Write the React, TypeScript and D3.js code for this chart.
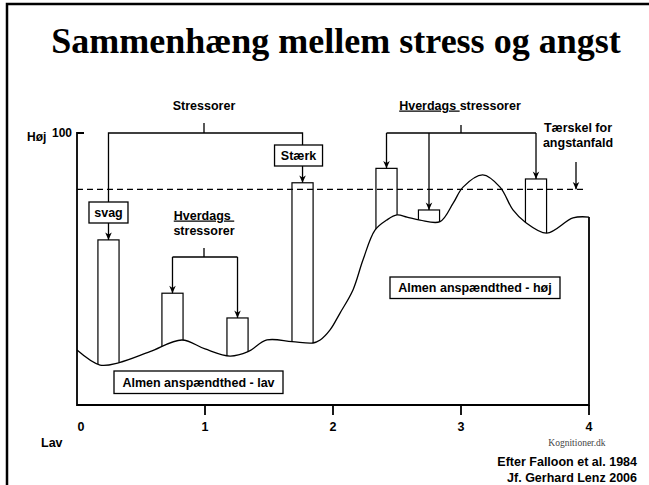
import React, { useEffect, useRef } from "react";
import * as d3 from "d3";

// Baseline tension curve (x in time units 0-4, y on 0-100 scale)
const curveX = [0, 0.18, 0.33, 0.57, 0.82, 1.0, 1.195, 1.336, 1.484, 1.68, 1.844, 1.9, 1.977, 2.055, 2.156, 2.234, 2.328, 2.42, 2.5, 2.578, 2.68, 2.836, 2.94, 3.016, 3.17, 3.305, 3.406, 3.5, 3.67, 3.875, 4.0];
const curveY = [20.2, 14.7, 15.6, 19.6, 23.9, 20.6, 18.0, 19.6, 23.9, 23.3, 22.8, 23.9, 27.6, 33.8, 42.3, 53.3, 64.3, 68, 69.9, 69.1, 68, 67.4, 74.3, 80.1, 84.6, 80.1, 71.7, 67.3, 63.2, 68.8, 69.1];

// Stressor bars
const barX = [0.246, 0.746, 1.254, 1.762, 2.418, 2.75, 3.586];
const barTop = [60.7, 41.1, 32, 81.7, 87, 71.7, 83.1];
const barWidth = 0.165;

const threshold = 79.3;
const xTicks = [0, 1, 2, 3, 4];
const yMax = 100;

const title = "Sammenhæng mellem stress og angst";
const sans = "'Liberation Sans', Arial, sans-serif";

const App: React.FC = () => {
  const svgRef = useRef<SVGSVGElement>(null);

  useEffect(() => {
    const svg = d3.select(svgRef.current);
    svg.selectAll("*").remove();

    const x = d3.scaleLinear().domain([0, 4]).range([77, 589]);
    const y = d3.scaleLinear().domain([0, yMax]).range([405, 133]);

    // arrow marker
    svg
      .append("defs")
      .append("marker")
      .attr("id", "arr")
      .attr("viewBox", "-1 -5 11 10")
      .attr("refX", 9)
      .attr("refY", 0)
      .attr("markerUnits", "userSpaceOnUse")
      .attr("markerWidth", 9)
      .attr("markerHeight", 9)
      .attr("orient", "auto")
      .append("path")
      .attr("d", "M0,-4 L9,0 L0,4 L2.5,0 Z")
      .attr("fill", "#000");

    // slide frame
    svg
      .append("path")
      .attr("d", "M7,490 L7,4 L655,4")
      .attr("fill", "none")
      .attr("stroke", "#000")
      .attr("stroke-width", 2.5);

    svg
      .append("text")
      .attr("x", 336)
      .attr("y", 53)
      .attr("text-anchor", "middle")
      .attr("font-family", "'Liberation Serif', 'Times New Roman', serif")
      .attr("font-weight", "bold")
      .attr("font-size", 36)
      .text(title);

    // bars (lower part hidden by the area under the curve)
    svg
      .append("g")
      .selectAll("rect")
      .data(barX)
      .join("rect")
      .attr("x", (d) => x(d - barWidth / 2))
      .attr("width", x(barWidth) - x(0))
      .attr("y", (d, i) => y(barTop[i]))
      .attr("height", (d, i) => y(0) - y(barTop[i]))
      .attr("fill", "#fff")
      .attr("stroke", "#000")
      .attr("stroke-width", 1.2);

    const pts = curveX.map((d, i) => [d, curveY[i]] as [number, number]);
    const area = d3
      .area<[number, number]>()
      .x((d) => x(d[0]))
      .y0(y(0))
      .y1((d) => y(d[1]))
      .curve(d3.curveCatmullRom.alpha(0.5));
    svg.append("path").attr("d", area(pts)).attr("fill", "#fff");

    const line = d3
      .line<[number, number]>()
      .x((d) => x(d[0]))
      .y((d) => y(d[1]))
      .curve(d3.curveCatmullRom.alpha(0.5));
    svg
      .append("path")
      .attr("d", line(pts))
      .attr("fill", "none")
      .attr("stroke", "#000")
      .attr("stroke-width", 1.3);

    // threshold
    svg
      .append("line")
      .attr("x1", x(0))
      .attr("x2", 585)
      .attr("y1", y(threshold))
      .attr("y2", y(threshold))
      .attr("stroke", "#000")
      .attr("stroke-width", 1.3)
      .attr("stroke-dasharray", "6,4");

    // axes
    const ax = svg.append("g").attr("stroke", "#000").attr("stroke-width", 1.8).attr("fill", "none");
    ax.append("path").attr("d", `M${x(0) + 7},${y(yMax)} H${x(0)} V${y(0)} H${x(4)} V${y(curveY[curveY.length - 1])}`);
    ax.selectAll("line")
      .data(xTicks.filter((d) => d > 0))
      .join("line")
      .attr("x1", (d) => x(d))
      .attr("x2", (d) => x(d))
      .attr("y1", y(0))
      .attr("y2", y(0) + 10);

    const txt = (
      g: d3.Selection<any, any, any, any>,
      s: string,
      tx: number,
      ty: number,
      anchor = "middle",
      size = 12.5
    ) =>
      g
        .append("text")
        .attr("x", tx)
        .attr("y", ty)
        .attr("text-anchor", anchor)
        .attr("font-family", sans)
        .attr("font-weight", "bold")
        .attr("font-size", size)
        .text(s);

    xTicks.forEach((d) => txt(svg, String(d), x(d) + (d === 0 ? 4 : 0), 431));
    txt(svg, "Lav", 41, 446.5, "start");
    txt(svg, "Høj", 27, 140.5, "start", 12);
    txt(svg, "100", 52, 137, "start", 12);

    // brackets and arrows
    const br = svg.append("g").attr("stroke", "#000").attr("stroke-width", 1.3).attr("fill", "none");
    const arrow = (x0: number, y0: number, y1: number) =>
      br.append("line").attr("x1", x0).attr("x2", x0).attr("y1", y0).attr("y2", y1).attr("marker-end", "url(#arr)");

    // "Stressorer" group -> bars 0 and 3
    txt(svg, "Stressorer", 204, 109.5);
    br.append("path").attr("d", `M204,123 V133 M${x(barX[0])},202 V133 H${x(barX[3])} V145`);
    const box = (label: string, cx: number, y0: number, w: number, h: number) => {
      svg
        .append("rect")
        .attr("x", cx - w / 2)
        .attr("y", y0)
        .attr("width", w)
        .attr("height", h)
        .attr("fill", "#fff")
        .attr("stroke", "#000")
        .attr("stroke-width", 1.3);
      txt(svg, label, cx, y0 + h / 2 + 4.5);
    };
    box("svag", x(barX[0]), 202, 39, 21);
    box("Stærk", x(barX[3]) - 4, 145, 48, 21);
    arrow(x(barX[0]), 223, y(barTop[0]));
    arrow(x(barX[3]), 166, y(barTop[3]));

    // left everyday stressors -> bars 1 and 2
    const hv1 = svg
      .append("text")
      .attr("x", 204)
      .attr("y", 219.5)
      .attr("text-anchor", "middle")
      .attr("font-family", sans)
      .attr("font-weight", "bold")
      .attr("font-size", 12.5)
      .attr("xml:space", "preserve");
    hv1.append("tspan").attr("text-decoration", "underline").text("Hverdags ");
    txt(svg, "stressorer", 204, 234.5);
    br.append("path").attr("d", `M204,248 V257 M${x(barX[1])},257 H${x(barX[2])}`);
    arrow(x(barX[1]), 257, y(barTop[1]));
    arrow(x(barX[2]), 257, y(barTop[2]));

    // right everyday stressors -> bars 4, 5, 6
    const hv2 = svg
      .append("text")
      .attr("x", 460)
      .attr("y", 109.5)
      .attr("text-anchor", "middle")
      .attr("font-family", sans)
      .attr("font-weight", "bold")
      .attr("font-size", 12.5)
      .attr("xml:space", "preserve");
    hv2.append("tspan").attr("text-decoration", "underline").text("Hverdags ");
    hv2.append("tspan").text("stressorer");
    br.append("path").attr("d", `M461,125 V133 M${x(barX[4])},133 H${x(barX[6])}`);
    [4, 5, 6].forEach((i) => arrow(x(barX[i]), 133, y(barTop[i])));

    // threshold label
    txt(svg, "Tærskel for", 578, 131.5);
    txt(svg, "angstanfald", 578, 146.5);
    arrow(576, 162, y(threshold));

    // level labels
    box("Almen anspændthed - høj", 475, 277, 170, 21.5);
    box("Almen anspændthed - lav", 198.5, 371, 169, 22.5);

    // credits
    svg
      .append("text")
      .attr("x", 577)
      .attr("y", 446)
      .attr("text-anchor", "middle")
      .attr("font-family", "'Liberation Serif', 'Times New Roman', serif")
      .attr("font-size", 9.5)
      .attr("fill", "#444")
      .text("Kognitioner.dk");
    txt(svg, "Efter Falloon et al. 1984", 637, 466, "end");
    txt(svg, "Jf. Gerhard Lenz 2006", 637, 481.5, "end");
  }, []);

  return (
    <svg
      ref={svgRef}
      width={649}
      height={485}
      style={{ position: "absolute", left: 0, top: 0, background: "#fff" }}
    ></svg>
  );
};

export default App;
